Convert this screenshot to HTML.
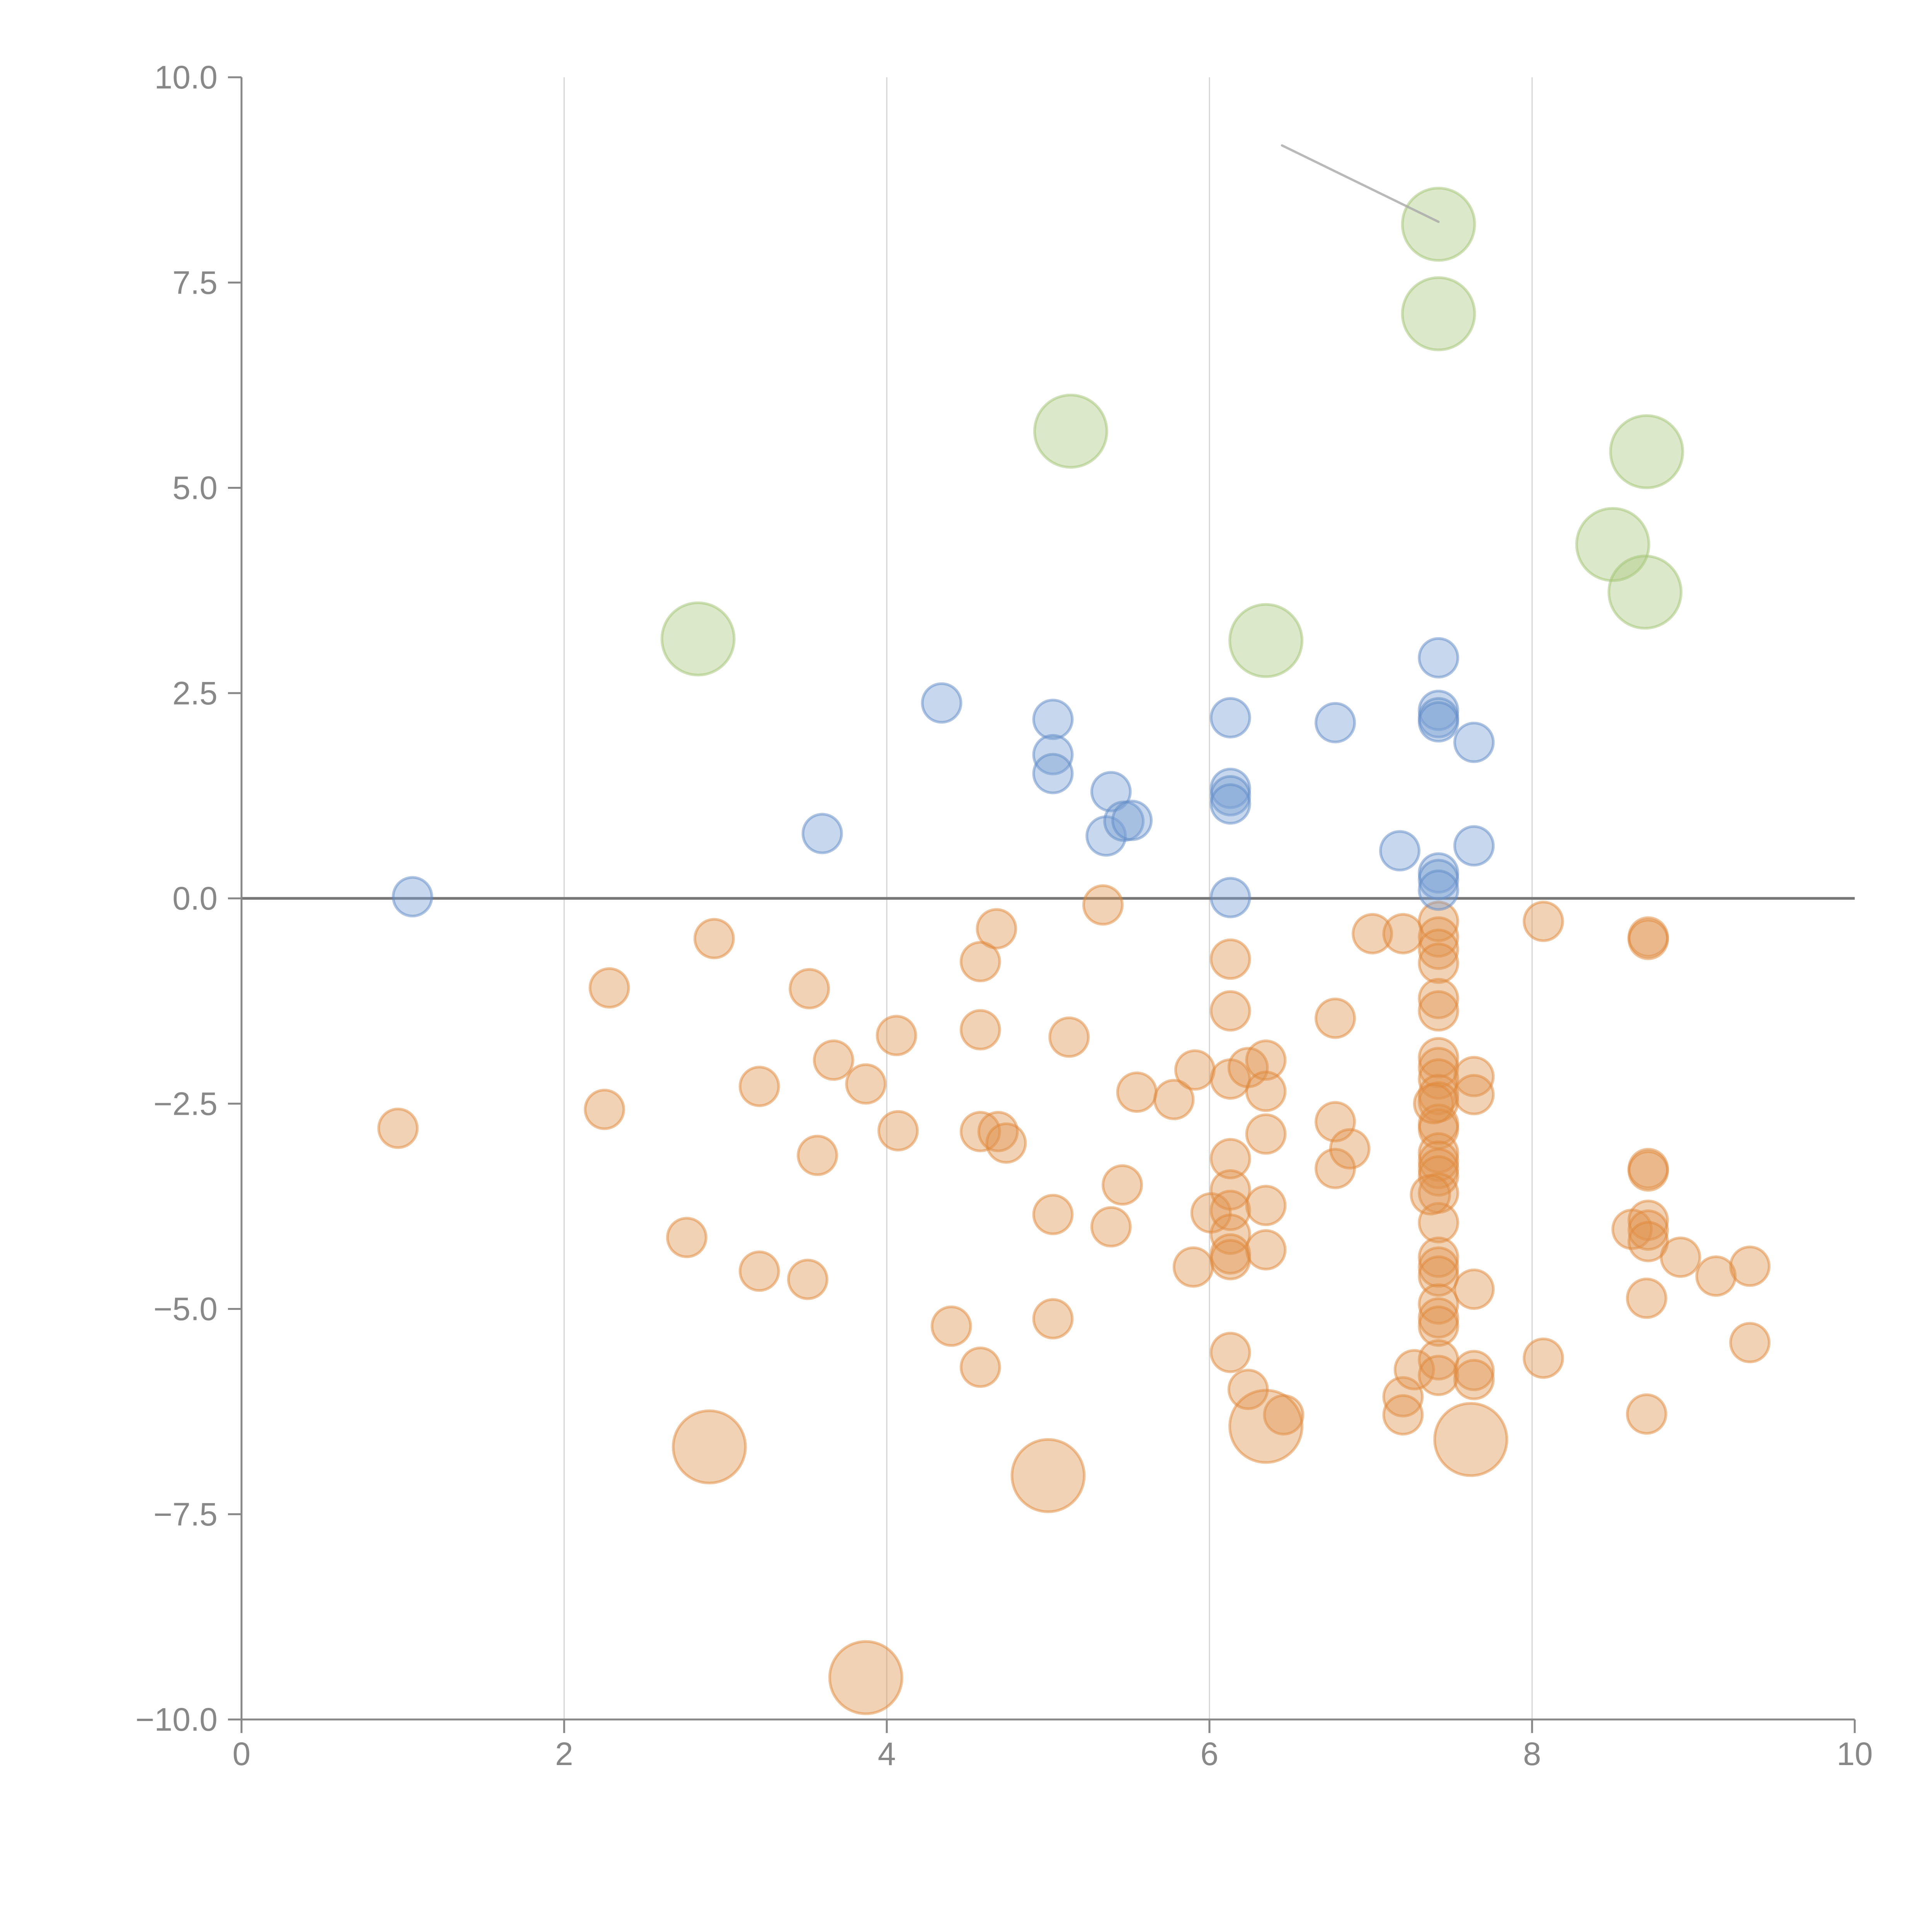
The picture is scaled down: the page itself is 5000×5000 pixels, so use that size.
<!DOCTYPE html>
<html><head><meta charset="utf-8">
<style>html,body{margin:0;padding:0;background:#fff;}svg{display:block;}</style>
</head><body>
<svg id="chart" xmlns="http://www.w3.org/2000/svg" width="5000" height="5000" viewBox="0 0 5000 5000">
<rect width="5000" height="5000" fill="#fff"/>
<g id="grid"></g>
<g id="marks"></g>
<g id="axes"></g>
</svg>
<script>
const xTicks = [0, 2, 4, 6, 8, 10];
const yTicks = [10, 7.5, 5, 2.5, 0, -2.5, -5, -7.5, -10];
const yTickLabels = ["10.0", "7.5", "5.0", "2.5", "0.0", "\u22122.5", "\u22125.0", "\u22127.5", "\u221210.0"];

const greenX = [7.42, 7.42, 5.14, 8.71, 8.50, 8.70, 2.83, 6.35];
const greenY = [8.21, 7.12, 5.69, 5.44, 4.31, 3.73, 3.16, 3.14];

const blueX = [1.06, 3.60, 4.34, 5.03, 5.03, 5.03, 5.39, 5.36, 5.47, 5.52, 6.13, 6.13, 6.13, 6.13, 6.13, 6.78, 7.18, 7.42, 7.42, 7.42, 7.42, 7.42, 7.42, 7.42, 7.64, 7.64];
const blueY = [0.02, 0.79, 2.38, 2.18, 1.75, 1.52, 1.30, 0.76, 0.94, 0.95, 2.20, 1.34, 1.25, 1.15, 0.01, 2.14, 0.58, 2.93, 2.29, 2.20, 2.15, 0.31, 0.23, 0.10, 1.90, 0.64];

const orangeX = [0.97, 2.25, 2.28, 2.76, 2.93, 3.21, 3.21, 3.51, 3.52, 3.57, 3.67, 3.87, 4.06, 4.07, 4.40, 4.58, 4.58, 4.58, 4.58, 4.68, 4.69, 4.74, 5.03, 5.03, 5.13, 5.34, 5.39, 5.46, 5.55, 5.78, 5.90, 5.91, 6.01, 6.13, 6.13, 6.13, 6.13, 6.13, 6.13, 6.13, 6.13, 6.13, 6.13, 6.24, 6.24, 6.35, 6.35, 6.35, 6.35, 6.35, 6.46, 6.78, 6.78, 6.78, 6.87, 7.01, 7.20, 7.20, 7.20, 7.27,
 7.42, 7.42, 7.42, 7.42, 7.42, 7.42, 7.42, 7.42, 7.42, 7.42, 7.42, 7.42, 7.42, 7.42, 7.42, 7.42, 7.42, 7.42, 7.42, 7.42, 7.42, 7.42, 7.42, 7.42, 7.42, 7.42, 7.42, 7.37, 7.39,
 7.64, 7.64, 7.64, 7.64, 7.64, 8.07, 8.07, 8.62, 8.72, 8.72, 8.72, 8.72, 8.72, 8.72, 8.72, 8.71, 8.71, 8.92, 9.14, 9.35, 9.35];
const orangeY = [-2.80, -2.57, -1.09, -4.13, -0.49, -2.29, -4.54, -4.64, -1.10, -3.13, -1.97, -2.26, -1.67, -2.83, -5.21, -0.77, -1.60, -2.84, -5.71, -0.37, -2.84, -2.98, -3.85, -5.12, -1.69, -0.08, -4.00, -3.49, -2.36, -2.45, -4.49, -2.09, -3.83, -0.74, -1.37, -2.20, -3.17, -3.55, -3.80, -4.09, -4.33, -4.40, -5.53, -5.98, -2.06, -1.97, -2.35, -2.87, -3.74, -4.28, -6.29, -1.46, -2.72, -3.29, -3.05, -0.43, -0.43, -6.07, -6.29, -5.74,
 -0.28, -0.47, -0.62, -0.79, -1.22, -1.37, -1.94, -2.06, -2.20, -2.39, -2.48, -2.75, -2.81, -3.10, -3.20, -3.29, -3.38, -3.59, -3.95, -4.37, -4.49, -4.60, -4.94, -5.11, -5.21, -5.62, -5.81, -3.61, -2.50,
 -2.17, -2.39, -4.76, -5.75, -5.86, -0.28, -5.60, -4.03, -0.47, -0.50, -3.29, -3.32, -3.92, -4.04, -4.18, -4.87, -6.28, -4.37, -4.60, -4.48, -5.41];
const bigOrangeX = [2.90, 5.00, 6.35, 7.62, 3.87];
const bigOrangeY = [-6.68, -7.03, -6.43, -6.59, -9.49];

const smallSize = 1;
const bigSize = 3.5;

const X0 = 625, X1 = 4800, Y0 = 4450, Y1 = 200;
function sx(v) { return X0 + (v - 0) / 10 * (X1 - X0); }
function sy(v) { return Y0 - (v + 10) / 20 * (Y0 - Y1); }
function sr(s) { return 50 * Math.sqrt(s); }

const NS = "http://www.w3.org/2000/svg";
function mk(tag, attrs, parent) {
  const e = document.createElementNS(NS, tag);
  for (const k in attrs) e.setAttribute(k, attrs[k]);
  parent.appendChild(e);
  return e;
}
const grid = document.getElementById('grid');
const marks = document.getElementById('marks');
const axes = document.getElementById('axes');

// vertical gridlines
xTicks.forEach(function (t) {
  if (t === 0 || t === 10) return;
  const l = mk('line', {x1: sx(t), x2: sx(t), y1: Y1, y2: Y0, stroke: '#d4d4d4', 'stroke-width': 3}, grid);
  
  
});

// zero line
const zl = mk('line', {x1: X0, x2: X1, y1: sy(0), y2: sy(0), stroke: '#777', 'stroke-width': 7}, grid);



function drawSeries(xs, ys, size, fill, stroke, name) {
  const g = mk('g', {}, marks);
  
  
  for (let i = 0; i < xs.length; i++) {
    const c = mk('circle', {cx: sx(xs[i]), cy: sy(ys[i]), r: sr(size), fill: fill, 'fill-opacity': 0.42, stroke: stroke, 'stroke-opacity': 0.5, 'stroke-width': 7}, g);
    
    
  }
}
drawSeries(orangeX, orangeY, smallSize, '#e0944e', '#e0883a', 'orange');
drawSeries(bigOrangeX, bigOrangeY, bigSize, '#e0944e', '#e0883a', 'orange-large');
drawSeries(blueX, blueY, smallSize, '#7a9fd4', '#5f89c6', 'blue');
drawSeries(greenX, greenY, bigSize, '#a9c97e', '#a2c474', 'green');

// annotation leader line
const ann = mk('line', {x1: sx(6.45), y1: sy(9.17), x2: sx(7.42), y2: sy(8.24), stroke: '#a8a8a8', 'stroke-opacity': 0.8, 'stroke-width': 6, 'stroke-linecap': 'round'}, marks);



// axes
const ya = mk('line', {x1: X0, x2: X0, y1: Y1, y2: Y0 + 35, stroke: '#888', 'stroke-width': 5}, axes);


const xa = mk('line', {x1: X0 - 35, x2: X1, y1: Y0, y2: Y0, stroke: '#888', 'stroke-width': 5}, axes);



xTicks.forEach(function (t) {
  const tk = mk('line', {x1: sx(t), x2: sx(t), y1: Y0, y2: Y0 + 35, stroke: '#888', 'stroke-width': 5}, axes);
  
  
  const tx = mk('text', {x: sx(t), y: Y0 + 118, 'text-anchor': 'middle', 'font-family': 'Liberation Sans, Arial, sans-serif', 'font-size': 84, fill: '#888'}, axes);
  tx.textContent = String(t);
  
  
});
yTicks.forEach(function (t, i) {
  const tk = mk('line', {x1: X0 - 35, x2: X0, y1: sy(t), y2: sy(t), stroke: '#888', 'stroke-width': 5}, axes);
  
  
  const tx = mk('text', {x: X0 - 62, y: sy(t) + 29, 'text-anchor': 'end', 'font-family': 'Liberation Sans, Arial, sans-serif', 'font-size': 84, fill: '#888'}, axes);
  tx.textContent = yTickLabels[i];
  
  
});
</script>
</body></html>
